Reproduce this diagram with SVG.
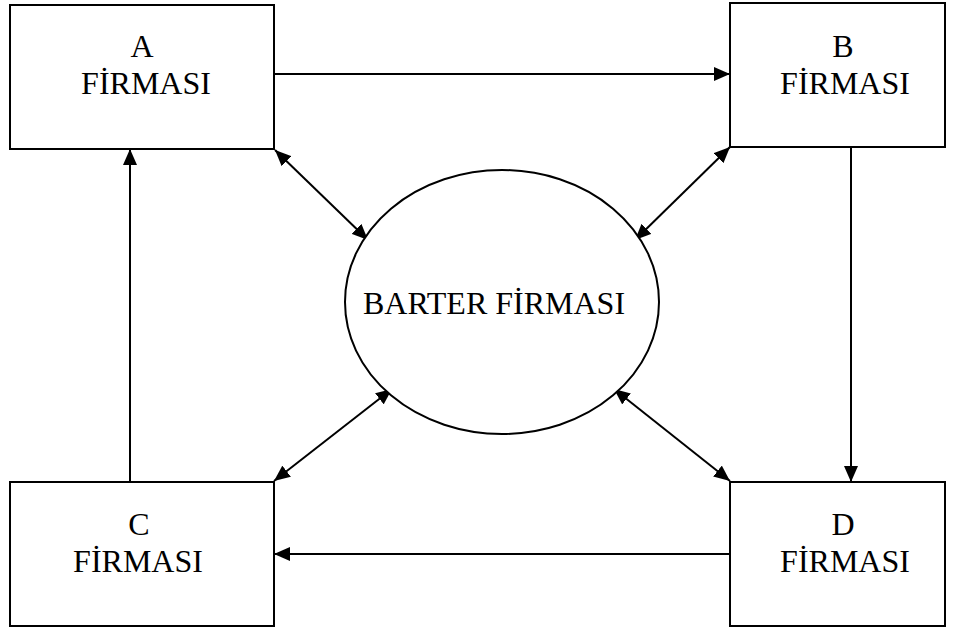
<svg xmlns="http://www.w3.org/2000/svg" width="960" height="630" viewBox="0 0 960 630">
<style>
.box{fill:#fff;stroke:#000;stroke-width:2}
.t{font-family:"Liberation Serif","Times New Roman",serif;font-size:32px;fill:#000;text-anchor:middle}
.c{fill:none;stroke:#000;stroke-width:2}
</style>
<defs>
<marker id="ah" viewBox="0 0 16 14" refX="16" refY="7" markerWidth="16" markerHeight="14" markerUnits="userSpaceOnUse" orient="auto-start-reverse">
<path d="M0,0 L16,7 L0,14 Z" fill="#000"/>
</marker>
</defs>
<rect width="960" height="630" fill="#fff"/>
<g id="connectors">
<line class="c" x1="274" y1="74" x2="730" y2="74" marker-end="url(#ah)"/>
<line class="c" x1="851" y1="147" x2="851" y2="482" marker-end="url(#ah)"/>
<line class="c" x1="730" y1="554" x2="274" y2="554" marker-end="url(#ah)"/>
<line class="c" x1="130" y1="482" x2="130" y2="149" marker-end="url(#ah)"/>
<line class="c" x1="275" y1="150" x2="368" y2="240" marker-start="url(#ah)" marker-end="url(#ah)"/>
<line class="c" x1="730" y1="147" x2="635" y2="240" marker-start="url(#ah)" marker-end="url(#ah)"/>
<line class="c" x1="392" y1="389" x2="274" y2="481" marker-start="url(#ah)" marker-end="url(#ah)"/>
<line class="c" x1="614" y1="389" x2="730" y2="481" marker-start="url(#ah)" marker-end="url(#ah)"/>
</g>
<g id="nodeA">
<rect class="box" x="10" y="5" width="264" height="144"/>
<text class="t" x="142" y="57">A</text>
<text class="t" x="146" y="94">FİRMASI</text>
</g>
<g id="nodeB">
<rect class="box" x="730" y="3" width="215" height="144"/>
<text class="t" x="843" y="57">B</text>
<text class="t" x="845" y="94">FİRMASI</text>
</g>
<g id="nodeC">
<rect class="box" x="10" y="482" width="264" height="144"/>
<text class="t" x="139" y="535">C</text>
<text class="t" x="138" y="572">FİRMASI</text>
</g>
<g id="nodeD">
<rect class="box" x="730" y="482" width="215" height="144"/>
<text class="t" x="843" y="535">D</text>
<text class="t" x="845" y="572">FİRMASI</text>
</g>
<g id="barter">
<ellipse class="box" cx="502" cy="302" rx="157" ry="132"/>
<text class="t" x="494" y="314">BARTER FİRMASI</text>
</g>
</svg>
